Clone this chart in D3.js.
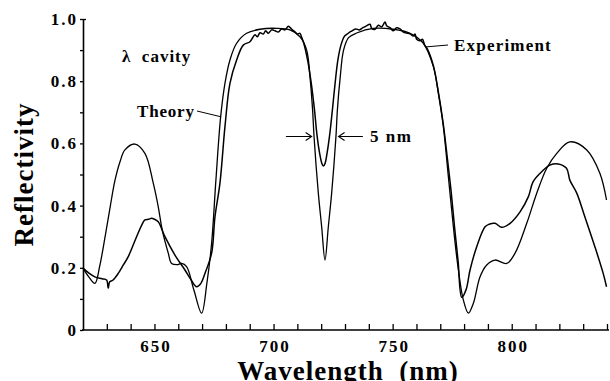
<!DOCTYPE html>
<html>
<head>
<meta charset="utf-8">
<script src="https://cdn.jsdelivr.net/npm/d3@7"></script>
<style>
body { margin: 0; background: #fff; }
</style>
</head>
<body>
<svg id="chart" width="610" height="381"></svg>
<script>
// theory curve (smooth)
const theoryWl = [620.0, 622.5, 625.0, 627.0, 629.5, 631.5, 633.4, 635.5, 637.6, 641.8, 646.0, 649.5, 651.6, 653.3, 655.8,
  657.2, 659.5, 661.4, 663.5, 666.5, 669.8, 672.0, 674.0, 675.8, 677.8, 679.6, 681.7, 684.5, 688.7, 694.3, 701.3,
  706.9, 711.1, 713.9, 715.3, 716.4, 717.0, 718.8, 720.2, 721.6, 723.0, 724.4, 726.2, 726.8, 728.0, 729.4, 731.5,
  734.9, 741.9, 750.3, 757.3, 762.9, 767.1, 769.2, 771.3, 773.4, 775.5, 777.6, 779.7, 781.8, 783.9, 786.7, 789.5,
  793.0, 797.9, 801.4, 806.3, 810.5, 814.7, 818.9, 824.4, 831.5, 837.0, 839.8];
const theoryR = [0.199, 0.170, 0.150, 0.205, 0.310, 0.400, 0.480, 0.540, 0.579, 0.598, 0.568, 0.472, 0.396, 0.320, 0.247,
  0.214, 0.210, 0.214, 0.204, 0.130, 0.054, 0.150, 0.279, 0.482, 0.686, 0.793, 0.868, 0.922, 0.954, 0.967, 0.970,
  0.965, 0.943, 0.900, 0.814, 0.707, 0.622, 0.440, 0.332, 0.225, 0.332, 0.440, 0.622, 0.707, 0.814, 0.900, 0.940,
  0.955, 0.970, 0.967, 0.954, 0.922, 0.847, 0.761, 0.654, 0.493, 0.332, 0.193, 0.096, 0.054, 0.086, 0.171, 0.209,
  0.225, 0.214, 0.247, 0.343, 0.440, 0.520, 0.568, 0.605, 0.579, 0.504, 0.418];

// measured curve (noisy on the stop band)
const expWl = [620.0, 622.5, 625.0, 628.0, 629.9, 630.6, 631.2, 632.5, 634.8, 637.0, 639.0, 642.5, 644.5, 646.0,
  647.5, 648.8, 650.0, 651.6, 654.4, 658.6, 662.8, 665.5, 667.7, 669.5, 671.2, 674.0, 675.4, 677.5, 679.6, 681.7,
  684.5, 687.3, 690.1, 692.2, 693.2, 694.3, 695.7, 696.7, 697.8, 699.2, 700.6, 702.0, 703.4, 704.8, 706.2, 706.9,
  707.9, 709.0, 710.0, 711.1, 711.8, 712.5, 714.3, 715.9, 717.2, 718.2, 719.3, 720.3, 720.9, 721.6, 722.5, 723.6,
  724.7, 725.8, 727.0, 728.3, 729.8, 731.0, 732.5, 734.5, 736.0, 737.5, 739.0, 740.5, 741.2, 742.6, 744.0, 745.4,
  746.8, 747.5, 748.9, 750.3, 751.7, 753.1, 754.5, 755.9, 757.3, 758.7, 759.4, 760.1, 761.5, 762.5, 763.5, 764.5,
  767.1, 769.2, 771.3, 773.0, 774.5, 776.0, 777.5, 779.0, 780.8, 782.5, 785.3, 788.8, 790.5, 793.0, 795.8, 799.3,
  803.5, 807.0, 809.0, 812.6, 816.0, 819.5, 823.0, 824.4, 827.3, 830.7, 834.9, 838.4, 839.8];
const expR = [0.199, 0.183, 0.171, 0.165, 0.161, 0.134, 0.155, 0.160, 0.182, 0.210, 0.236, 0.300, 0.335, 0.354,
  0.356, 0.359, 0.356, 0.348, 0.300, 0.241, 0.193, 0.160, 0.139, 0.150, 0.182, 0.247, 0.364, 0.472, 0.654, 0.793,
  0.868, 0.916, 0.927, 0.949, 0.943, 0.956, 0.952, 0.962, 0.954, 0.965, 0.962, 0.958, 0.968, 0.965, 0.977, 0.973,
  0.965, 0.959, 0.952, 0.954, 0.941, 0.927, 0.868, 0.790, 0.707, 0.630, 0.570, 0.535, 0.527, 0.535, 0.570, 0.630,
  0.707, 0.790, 0.868, 0.916, 0.945, 0.952, 0.960, 0.968, 0.965, 0.972, 0.978, 0.983, 0.970, 0.967, 0.980, 0.975,
  0.990, 0.978, 0.972, 0.962, 0.972, 0.968, 0.958, 0.955, 0.952, 0.945, 0.952, 0.935, 0.930, 0.935, 0.915, 0.905,
  0.850, 0.765, 0.660, 0.550, 0.450, 0.330, 0.220, 0.105, 0.129, 0.193, 0.268, 0.332, 0.340, 0.343, 0.330, 0.343,
  0.380, 0.429, 0.477, 0.509, 0.530, 0.534, 0.520, 0.482, 0.440, 0.364, 0.268, 0.182, 0.139];

const xTicks = d3.range(630, 841, 10);
const xLabels = [650, 700, 750, 800];
const yTicks = d3.range(0, 1.01, 0.1);
const yLabels = [0, 0.2, 0.4, 0.6, 0.8, 1.0];

const svg = d3.select("#chart");
const x = d3.scaleLinear().domain([620, 840]).range([83, 607]);
const y = d3.scaleLinear().domain([0, 1]).range([330, 19]);

// x axis: ticks pointing up into the plot
const xAxis = d3.axisBottom(x)
  .tickValues(xTicks)
  .tickSizeInner(-6)
  .tickSizeOuter(0)
  .tickPadding(10)
  .tickFormat(d => xLabels.includes(d) ? d : "");
const gx = svg.append("g").attr("transform", `translate(0,${y(0)})`).call(xAxis);
gx.select(".domain").attr("stroke-width", 1.6).attr("d", `M${x(620) - 1},0H${x(840) + 2}`);
gx.selectAll(".tick line").attr("stroke-width", 1.3);
gx.selectAll(".tick text").style("font-size", "17px").style("letter-spacing", "2px").attr("dx", "1px");

// y axis: small ticks to the left
const yAxis = d3.axisLeft(y)
  .tickValues(yTicks)
  .tickSizeInner(3)
  .tickSizeOuter(0)
  .tickPadding(2)
  .tickFormat(d => yLabels.some(v => Math.abs(v - d) < 1e-6) ? (d === 0 ? "0" : d3.format(".1f")(d)) : "");
const gy = svg.append("g").attr("transform", `translate(${x(620)},0)`).call(yAxis);
gy.select(".domain").attr("stroke-width", 1.6);
gy.selectAll(".tick line").attr("stroke-width", 1.3);
gy.selectAll(".tick text").style("font-size", "17px").style("letter-spacing", "2px");

// top cap tick at 1.0 points right
svg.append("g").attr("transform", `translate(${x(620)},0)`)
  .call(d3.axisRight(y).tickValues([1]).tickSize(3).tickFormat(""))
  .call(g => g.select(".domain").remove())
  .selectAll("line").attr("stroke-width", 1.3);

// curves
const line = d3.line()
  .x(d => x(d[0]))
  .y(d => y(d[1]))
  .curve(d3.curveCatmullRom.alpha(0.5));

svg.append("path")
  .datum(theoryWl.map((w, i) => [w, theoryR[i]]))
  .attr("fill", "none").attr("stroke", "#000").attr("stroke-width", 1.3)
  .attr("d", line);

svg.append("path")
  .datum(expWl.map((w, i) => [w, expR[i]]))
  .attr("fill", "none").attr("stroke", "#000").attr("stroke-width", 1.5)
  .attr("d", line);

// axis titles
svg.append("text")
  .attr("transform", `translate(33,${(y(0) + y(1)) / 2}) rotate(-90)`)
  .attr("text-anchor", "middle")
  .style("font-size", "27px").style("letter-spacing", "1px")
  .text("Reflectivity");

svg.append("text")
  .attr("x", 348).attr("y", 380)
  .attr("text-anchor", "middle")
  .style("font-size", "27px").style("letter-spacing", "1px")
  .text("Wavelength\u00a0\u00a0(nm)");

// annotations
svg.append("text").attr("x", 122).attr("y", 62)
  .style("font-size", "17px").style("letter-spacing", "1px")
  .text("\u03bb\u00a0\u00a0cavity");

svg.append("text").attr("x", 137).attr("y", 117)
  .style("font-size", "17px").style("letter-spacing", "0.8px")
  .text("Theory");
svg.append("line")
  .attr("x1", 197).attr("y1", 111).attr("x2", x(677.7)).attr("y2", y(0.686))
  .attr("stroke", "#000").attr("stroke-width", 1);

svg.append("text").attr("x", 454).attr("y", 51)
  .style("font-size", "17px").style("letter-spacing", "1.2px")
  .text("Experiment");
svg.append("line")
  .attr("x1", 448).attr("y1", 45).attr("x2", x(763.6)).attr("y2", y(0.91))
  .attr("stroke", "#000").attr("stroke-width", 1);

// 5 nm arrows
const arrowY = y(0.622);
function arrow(x0, x1) {
  const dir = Math.sign(x1 - x0);
  svg.append("path")
    .attr("d", `M${x0},${arrowY}H${x1}M${x1 - dir * 6},${arrowY - 4}L${x1},${arrowY}L${x1 - dir * 6},${arrowY + 4}`)
    .attr("fill", "none").attr("stroke", "#000").attr("stroke-width", 1.1);
}
arrow(x(705.2), x(716.0));
arrow(x(737.5), x(727.3));
svg.append("text").attr("x", 370).attr("y", 142)
  .style("font-size", "17px").style("letter-spacing", "1.5px")
  .text("5 nm");

// serif bold everywhere, set inline so the axis defaults do not win
svg.selectAll("text")
  .style("font-family", '"Liberation Serif"')
  .style("font-weight", "bold")
  .attr("fill", "#000");
</script>
</body>
</html>
